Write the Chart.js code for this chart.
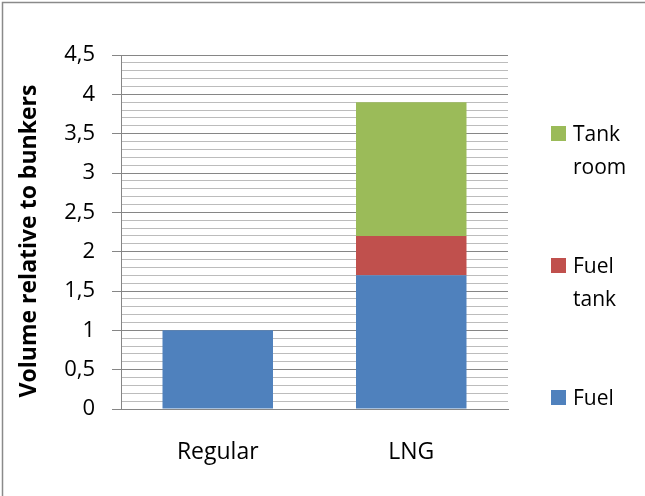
<!DOCTYPE html>
<html>
<head>
<meta charset="utf-8">
<script src="https://cdn.jsdelivr.net/npm/chart.js@4/dist/chart.umd.min.js"></script>
<style>
  html, body { margin: 0; padding: 0; background: #fff; overflow: hidden; }
  #wrap { width: 645px; height: 496px; }
</style>
</head>
<body>
<div id="wrap"><canvas id="c" width="645" height="496"></canvas></div>
<script>
// Fuel-system volume, relative to conventional bunkers
const categories = ['Regular', 'LNG'];
const seriesNames = ['Fuel', 'Fuel tank', 'Tank room'];
const fuel = [1.0, 1.7];
const fuelTank = [0, 0.5];
const tankRoom = [0, 1.7];
const yTicks = [0, 0.5, 1, 1.5, 2, 2.5, 3, 3.5, 4, 4.5];
const seriesColors = ['#4F81BD', '#C0504D', '#9BBB59'];

const FONT = '"Open Sans", "Liberation Sans", sans-serif';
const isMajor = v => yTicks.some(t => Math.abs(t - v) < 1e-6);

// outer frame of the chart object (top and left edges)
const framePlugin = {
  id: 'frame',
  beforeDraw(chart) {
    const ctx = chart.ctx;
    ctx.save();
    ctx.fillStyle = '#fff';
    ctx.fillRect(0, 0, chart.width, chart.height);
    ctx.strokeStyle = '#8a8a8a';
    ctx.lineWidth = 1.5;
    ctx.beginPath();
    ctx.moveTo(2.5, chart.height);
    ctx.lineTo(2.5, 2.5);
    ctx.lineTo(chart.width, 2.5);
    ctx.stroke();
    ctx.restore();
  }
};

// rotated y-axis title
const yTitlePlugin = {
  id: 'yTitle',
  afterDraw(chart) {
    const ctx = chart.ctx;
    ctx.save();
    ctx.translate(29, 241);
    ctx.rotate(-Math.PI / 2);
    ctx.font = 'bold 23px ' + FONT;
    ctx.fillStyle = '#000';
    ctx.textAlign = 'center';
    ctx.textBaseline = 'middle';
    ctx.fillText('Volume relative to bunkers', 0, 0);
    ctx.restore();
  }
};

// legend on the right, top entry = top of stack, labels wrapped per word
const legendPlugin = {
  id: 'sideLegend',
  afterDraw(chart) {
    const ctx = chart.ctx;
    const ds = chart.data.datasets.slice().reverse();
    const x0 = chart.chartArea.right + 43;
    const tops = [126, 258, 390];
    ctx.save();
    ctx.font = '21px ' + FONT;
    ctx.textBaseline = 'alphabetic';
    ds.forEach((d, i) => {
      const top = tops[i];
      ctx.fillStyle = d.backgroundColor;
      ctx.fillRect(x0, top, 15, 15);
      ctx.fillStyle = '#000';
      d.label.split(' ').forEach((w, j) => {
        ctx.fillText(w, x0 + 22, top + 15 + j * 33);
      });
    });
    ctx.restore();
  }
};

new Chart(document.getElementById('c'), {
  type: 'bar',
  data: {
    labels: categories,
    datasets: [
      { label: seriesNames[0], data: fuel, backgroundColor: seriesColors[0] },
      { label: seriesNames[1], data: fuelTank, backgroundColor: seriesColors[1] },
      { label: seriesNames[2], data: tankRoom, backgroundColor: seriesColors[2] }
    ]
  },
  options: {
    responsive: false,
    animation: false,
    datasets: { bar: { categoryPercentage: 1, barPercentage: 0.571, borderWidth: 0 } },
    layout: { padding: { top: 55, right: 137, left: 0, bottom: 0 } },
    plugins: { legend: { display: false }, tooltip: { enabled: false } },
    scales: {
      x: {
        stacked: true,
        afterFit(s) { s.height = 87; },
        grid: { display: false, drawTicks: false },
        border: { color: '#868686', width: 1 },
        ticks: { color: '#000', font: { family: FONT, size: 23 }, padding: 30 }
      },
      y: {
        stacked: true,
        min: 0,
        max: 4.5,
        afterFit(s) { s.width = 121; },
        afterBuildTicks(s) {
          const t = [];
          for (let i = 0; i <= 45; i++) t.push({ value: i / 10 });
          s.ticks = t;
        },
        grid: {
          color: ctx => isMajor(ctx.tick.value) ? '#868686' : '#bcbcbc',
          tickColor: ctx => isMajor(ctx.tick.value) ? '#868686' : 'rgba(0,0,0,0)',
          tickLength: 9,
          lineWidth: 1
        },
        border: { color: '#868686', width: 1 },
        ticks: {
          autoSkip: false,
          padding: 17,
          color: '#000',
          font: { family: FONT, size: 22 },
          callback: v => isMajor(v) ? String(Math.round(v * 10) / 10).replace('.', ',') : ''
        }
      }
    }
  },
  plugins: [framePlugin, yTitlePlugin, legendPlugin]
});
</script>
</body>
</html>
